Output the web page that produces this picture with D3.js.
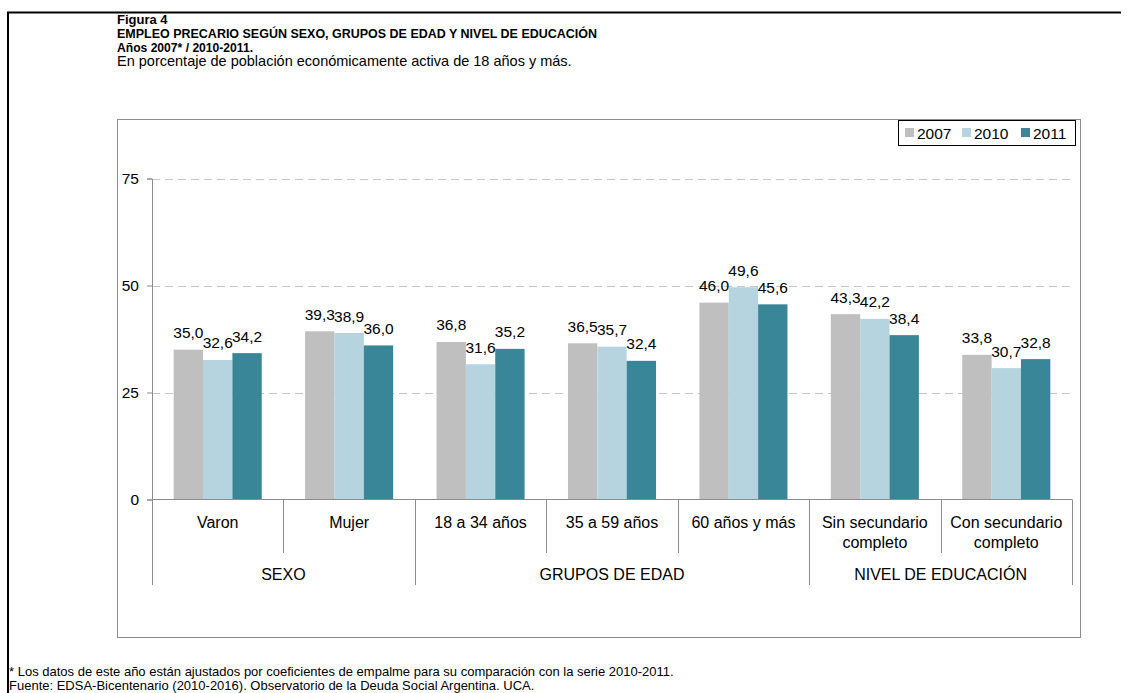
<!DOCTYPE html>
<html>
<head>
<meta charset="utf-8">
<script src="https://cdn.jsdelivr.net/npm/d3@7"></script>
<style>
body { margin: 0; background: #fff; }
svg { font-family: "Liberation Sans", Arial, sans-serif; }
</style>
</head>
<body>
<div class="chart"></div>
<script>
// datos
var categorias = ["Varon", "Mujer", "18 a 34 años", "35 a 59 años", "60 años y más", "Sin secundario completo", "Con secundario completo"];
var grupos = ["SEXO", "GRUPOS DE EDAD", "NIVEL DE EDUCACIÓN"];
var grupoDeCategoria = [0, 0, 1, 1, 1, 2, 2];
var series = ["2007", "2010", "2011"];
var valores2007 = [35.0, 39.3, 36.8, 36.5, 46.0, 43.3, 33.8];
var valores2010 = [32.6, 38.9, 31.6, 35.7, 49.6, 42.2, 30.7];
var valores2011 = [34.2, 36.0, 35.2, 32.4, 45.6, 38.4, 32.8];
var ticksY = [0, 25, 50, 75];

var colores = ["#bfbfbf", "#b5d4df", "#3a8699"];

var width = 1130, height = 693;

var svg = d3.select(".chart")
		.append("svg")
		.attr("width", width)
		.attr("height", height);

// marco exterior
svg.append("line").attr("x1", 7).attr("x2", 1121).attr("y1", 12.5).attr("y2", 12.5)
		.attr("stroke", "#000").attr("stroke-width", 2);
svg.append("line").attr("x1", 8).attr("x2", 8).attr("y1", 12).attr("y2", height)
		.attr("stroke", "#000").attr("stroke-width", 2);

// titulos
var titulos = [
	{t: "Figura 4", b: true, y: 24, w: 0, fs: 13},
	{t: "EMPLEO PRECARIO SEGÚN SEXO, GRUPOS DE EDAD Y NIVEL DE EDUCACIÓN", b: true, y: 38, w: 480, fs: 13},
	{t: "Años 2007* / 2010-2011.", b: true, y: 52, w: 136, fs: 13},
	{t: "En porcentaje de población económicamente activa de 18 años y más.", b: false, y: 66, w: 0, fs: 14.5}
];
svg.selectAll(".titulo")
		.data(titulos)
		.enter()
		.append("text")
		.attr("class", "titulo")
		.attr("x", 117)
		.attr("y", function(d) { return d.y; })
		.attr("textLength", function(d) { return d.w ? d.w : null; })
		.attr("lengthAdjust", "spacingAndGlyphs")
		.style("font-size", function(d) { return d.fs + "px"; })
		.style("font-weight", function(d) { return d.b ? "bold" : "normal"; })
		.text(function(d) { return d.t; });

// marco del grafico
svg.append("rect")
		.attr("x", 117.5).attr("y", 119.5)
		.attr("width", 963).attr("height", 518)
		.attr("fill", "none")
		.attr("stroke", "#8c8c8c");

var x0 = 152, x1 = 1072, yBase = 499.5, yTop = 178.5;

var x = d3.scaleBand()
		.domain(categorias)
		.range([x0, x1])
		.paddingInner(0.33)
		.paddingOuter(0.165);

var xs = d3.scaleBand()
		.domain(series)
		.range([0, x.bandwidth()]);

var y = d3.scaleLinear()
		.domain([0, 75])
		.range([yBase, yTop]);

// grilla
svg.selectAll(".grid")
		.data(ticksY.filter(function(d) { return d > 0; }))
		.enter()
		.append("line")
		.attr("class", "grid")
		.attr("x1", x0).attr("x2", x1)
		.attr("y1", function(d) { return Math.round(y(d)) + 0.5; })
		.attr("y2", function(d) { return Math.round(y(d)) + 0.5; })
		.attr("stroke", "#c6c6c6")
		.attr("stroke-dasharray", "8,5");

// eje y
var ejeY = svg.append("g")
		.attr("transform", "translate(" + x0 + ",0)")
		.call(d3.axisLeft(y).tickValues(ticksY).tickSize(5).tickPadding(8).tickFormat(d3.format("d")));
ejeY.select(".domain").attr("stroke", "#8c8c8c");
ejeY.selectAll(".tick line").attr("stroke", "#8c8c8c");
ejeY.selectAll("text")
		.style("font-family", "Liberation Sans, Arial, sans-serif")
		.style("font-size", "15.5px")
		.attr("fill", "#000");

// barras
var datos = [];
categorias.forEach(function(c, i) {
	[valores2007, valores2010, valores2011].forEach(function(v, j) {
		datos.push({cat: c, serie: series[j], valor: v[i], color: colores[j]});
	});
});

var fmt = function(v) { return d3.format(".1f")(v).replace(".", ","); };

svg.selectAll(".bar")
		.data(datos)
		.enter()
		.append("rect")
		.attr("class", "bar")
		.attr("x", function(d) { return x(d.cat) + xs(d.serie); })
		.attr("width", xs.bandwidth())
		.attr("y", function(d) { return y(d.valor); })
		.attr("height", function(d) { return yBase - y(d.valor); })
		.attr("fill", function(d) { return d.color; });

svg.selectAll(".etiqueta")
		.data(datos)
		.enter()
		.append("text")
		.attr("class", "etiqueta")
		.attr("x", function(d) { return x(d.cat) + xs(d.serie) + xs.bandwidth() / 2; })
		.attr("y", function(d) { return y(d.valor) - 11.5; })
		.attr("text-anchor", "middle")
		.style("font-size", "15.5px")
		.text(function(d) { return fmt(d.valor); });

// eje x (linea base)
svg.append("line")
		.attr("x1", x0).attr("x2", x1)
		.attr("y1", yBase).attr("y2", yBase)
		.attr("stroke", "#8c8c8c");

// separadores de categorias
var paso = x.step();
var bordes = d3.range(categorias.length + 1).map(function(i) { return x0 + i * paso; });
svg.selectAll(".sep")
		.data(bordes)
		.enter()
		.append("line")
		.attr("class", "sep")
		.attr("x1", function(d) { return Math.round(d) + 0.5; })
		.attr("x2", function(d) { return Math.round(d) + 0.5; })
		.attr("y1", yBase)
		.attr("y2", function(d, i) {
			var esBordeGrupo = i == 0 || i == categorias.length || grupoDeCategoria[i] != grupoDeCategoria[i - 1];
			return esBordeGrupo ? 585 : 553;
		})
		.attr("stroke", "#8c8c8c");

// etiquetas de categoria
svg.selectAll(".cat")
		.data(categorias)
		.enter()
		.append("text")
		.attr("class", "cat")
		.attr("x", function(d) { return x(d) + x.bandwidth() / 2; })
		.attr("y", 528)
		.attr("text-anchor", "middle")
		.style("font-size", "16px")
		.each(function(d) {
			var el = d3.select(this);
			var partes = d.indexOf("secundario") > -1 ? [d.replace(" completo", ""), "completo"] : [d];
			partes.forEach(function(p, k) {
				el.append("tspan")
					.attr("x", x(d) + x.bandwidth() / 2)
					.attr("dy", k == 0 ? 0 : 19.5)
					.text(p);
			});
		});

// etiquetas de grupo
svg.selectAll(".grupo")
		.data(grupos)
		.enter()
		.append("text")
		.attr("class", "grupo")
		.attr("x", function(d, g) {
			var idx = grupoDeCategoria.map(function(v, i) { return v == g ? i : -1; }).filter(function(i) { return i >= 0; });
			return (bordes[idx[0]] + bordes[idx[idx.length - 1] + 1]) / 2;
		})
		.attr("y", 580)
		.attr("text-anchor", "middle")
		.style("font-size", "16px")
		.text(function(d) { return d; });

// leyenda
var leyenda = svg.append("g");
leyenda.append("rect")
		.attr("x", 898.5).attr("y", 120.5)
		.attr("width", 177).attr("height", 25)
		.attr("fill", "#fff")
		.attr("stroke", "#000");
var posLeyenda = [905, 962, 1021];
series.forEach(function(s, i) {
	leyenda.append("rect")
		.attr("x", posLeyenda[i]).attr("y", 128)
		.attr("width", 9).attr("height", 9)
		.attr("fill", colores[i]);
	leyenda.append("text")
		.attr("x", posLeyenda[i] + 12).attr("y", 138.5)
		.style("font-size", "15.5px")
		.text(s);
});

// notas
svg.append("text")
		.attr("x", 9).attr("y", 676)
		.style("font-size", "13px")
		.text("* Los datos de este año están ajustados por coeficientes de empalme para su comparación con la serie 2010-2011.");
svg.append("text")
		.attr("x", 9).attr("y", 690)
		.style("font-size", "13px")
		.text("Fuente: EDSA-Bicentenario (2010-2016). Observatorio de la Deuda Social Argentina. UCA.");
</script>
</body>
</html>
